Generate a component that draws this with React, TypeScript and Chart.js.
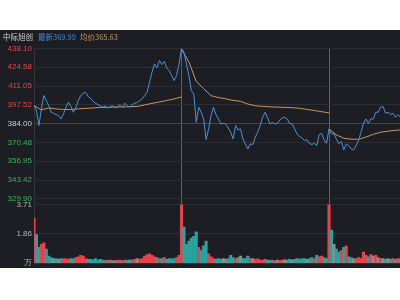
import React, { useEffect, useRef } from "react";
import { Chart, registerables } from "chart.js";

Chart.register(...registerables);

// ---- Text ----
const stockName = "中际旭创";
const latestLabel = "最新369.99";
const avgLabel = "均价365.63";
const volumeUnit = "万";

// ---- Axis values ----
const prevClose = 384.0;
const priceTicks = [438.1, 424.58, 411.05, 397.52, 384.0, 370.48, 356.95, 343.42, 329.9];
const volumeTicks = [0, 1.86, 3.71];
const minutesPerDay = 240;
const priceStep = 4; // minutes between price / volume samples
const avgStep = 12; // minutes between average samples
const dayBoundaries = [0, 240, 480];
const xMaxMinutes = 595.5;

// ---- Price (every 4 min) ----
const priceDay1 = [
  397.0, 393.4, 382.6, 394.6, 404.2, 400.6, 397.0, 392.2, 391.5, 390.5,
  389.8, 387.4, 391.0, 395.8, 399.4, 396.3, 392.2, 395.3, 400.6, 404.2,
  405.8, 406.6, 403.5, 402.3, 400.1, 398.7, 397.7, 396.8, 395.8, 396.8,
  395.3, 396.3, 397.0, 395.3, 396.3, 397.7, 395.8, 398.7, 396.8, 395.8,
  397.7, 398.7, 399.2, 400.6, 401.8, 404.2, 406.6, 413.8, 421.0, 427.0,
  424.1, 429.4, 426.5, 428.9, 424.1, 422.2, 418.6, 415.0, 418.6, 427.0,
];
const priceDay2 = [
  438.1, 435.4, 427.0, 418.6, 407.8, 405.4, 385.0, 395.8, 392.2, 387.4,
  372.5, 380.0, 389.8, 395.8, 390.5, 387.4, 383.8, 384.2, 383.8, 380.9,
  377.8, 373.0, 382.6, 379.5, 380.2, 373.0, 369.4, 365.8, 369.4, 369.0,
  374.2, 377.8, 382.6, 388.6, 392.2, 388.1, 383.8, 384.8, 383.8, 384.2,
  386.6, 388.1, 388.6, 387.4, 384.2, 383.8, 380.2, 376.6, 374.7, 373.7,
  371.8, 372.5, 369.8, 369.0, 369.8, 368.2, 376.1, 377.0, 372.3, 369.8,
];
const priceDay3 = [
  380.2, 376.6, 376.6, 373.0, 369.4, 371.3, 365.1, 369.4, 368.2, 365.8,
  365.1, 368.2, 371.8, 377.8, 383.8, 387.4, 384.2, 387.4, 387.4, 392.2,
  392.2, 395.8, 396.3, 391.5, 392.2, 390.5, 391.5, 388.6, 390.5, 388.6,
];

// ---- Average price (every 12 min) ----
const avgDay1 = [
  397.0, 393.9, 395.3, 394.6, 394.2, 394.2, 394.6, 395.0, 395.3, 395.7,
  395.7, 396.0, 396.0, 396.2, 396.4, 397.5, 398.6, 399.6, 400.7, 401.8, 403.2,
];
const avgDay2 = [
  437.7, 428.4, 414.4, 409.2, 404.1, 402.8, 401.9, 400.7, 400.1, 398.1,
  396.9, 396.4, 396.1, 395.9, 395.7, 395.5, 395.1, 394.2, 393.5, 392.6, 391.7,
];
const avgDay3 = [380.2, 375.9, 373.5, 372.8, 372.7, 374.3, 376.3, 377.8, 378.6, 379.2, 379.5];

// ---- Volume, 万 (every 4 min) ----
const volDay1 = [
  2.87, 1.81, 1.0, 1.2, 1.3, 0.9, 0.45, 0.35, 0.3, 0.3,
  0.25, 0.3, 0.28, 0.3, 0.25, 0.3, 0.28, 0.35, 0.4, 0.5,
  0.45, 0.3, 0.25, 0.25, 0.22, 0.3, 0.2, 0.25, 0.2, 0.18,
  0.18, 0.2, 0.15, 0.18, 0.18, 0.2, 0.15, 0.2, 0.18, 0.22,
  0.2, 0.25, 0.3, 0.25, 0.3, 0.45, 0.55, 0.6, 0.5, 0.4,
  0.35, 0.3, 0.3, 0.35, 0.25, 0.3, 0.28, 0.3, 0.35, 0.5,
];
const volDay2 = [
  3.71, 2.3, 1.2, 1.4, 1.6, 1.7, 2.0, 1.0, 0.8, 1.1,
  1.4, 0.6, 0.4, 0.3, 0.25, 0.3, 0.25, 0.3, 0.25, 0.3,
  0.5, 0.35, 0.3, 0.35, 0.45, 0.3, 0.3, 0.45, 0.3, 0.3,
  0.25, 0.28, 0.2, 0.2, 0.25, 0.2, 0.18, 0.2, 0.15, 0.2,
  0.18, 0.2, 0.22, 0.2, 0.25, 0.2, 0.25, 0.3, 0.25, 0.3,
  0.3, 0.25, 0.3, 0.35, 0.3, 0.5, 0.4, 0.45, 0.35, 0.3,
];
const volDay3 = [
  3.71, 2.1, 1.2, 0.9, 0.7, 0.8, 1.0, 1.1, 0.4, 0.35,
  0.3, 0.3, 0.35, 0.3, 0.7, 0.5, 0.4, 0.55, 0.45, 0.5,
  0.35, 0.3, 0.3, 0.25, 0.3, 0.25, 0.3, 0.25, 0.3, 0.3,
];

// ---- Styling ----
const BG = "#1d1e23";
const RED = "#e8434c";
const TEAL = "#28a39f";
const GRAY = "#8d8d8f";
const LINE_BLUE = "#4a92da";
const AVG_TAN = "#c8965c";
const TICK_RED = "#e0464c";
const TICK_GREEN = "#35b45e";
const TICK_WHITE = "#cfd0d3";
const GRID = "#2c2e34";
const FONT = "'Liberation Sans', Arial, sans-serif";

// vertical layout inside the canvas (px)
const CANVAS_H = 240;
const AREA_TOP = 18.5;
const PRICE_BOTTOM = 169; // pixel of lowest price tick
const SPLIT = 172; // border between price and volume panels
const VOL_TOP = 175; // pixel of highest volume tick
const AREA_BOTTOM = 233.5;
const AXIS_W = 34;

const priceMax = priceTicks[0];
const priceMinTick = priceTicks[priceTicks.length - 1];
const pricePerPx = (priceMax - priceMinTick) / (PRICE_BOTTOM - AREA_TOP);
const priceMin = priceMinTick - (SPLIT - PRICE_BOTTOM) * pricePerPx;
const volMax = (volumeTicks[2] * (AREA_BOTTOM - SPLIT)) / (AREA_BOTTOM - VOL_TOP);

function buildConfig(): any {
  const days = [priceDay1, priceDay2, priceDay3];
  const vols = [volDay1, volDay2, volDay3];
  const avgs = [avgDay1, avgDay2, avgDay3];
  const pricePts: { x: number; y: number }[] = [];
  const volPts: { x: number; y: number }[] = [];
  const volColors: string[] = [];
  let prev: number | null = null;
  days.forEach((arr, d) => {
    arr.forEach((p, i) => {
      const x = d * minutesPerDay + i * priceStep;
      pricePts.push({ x, y: p });
      volPts.push({ x, y: vols[d][i] });
      let c = RED;
      if (prev !== null) {
        const diff = p - prev;
        c = diff > 0.8 ? RED : diff < -0.8 ? TEAL : GRAY;
      }
      volColors.push(c);
      prev = p;
    });
  });
  const avgSets = avgs.map((arr, d) => ({
    type: "line",
    data: arr.map((v, i) => ({ x: d * minutesPerDay + i * avgStep, y: v })),
    borderColor: AVG_TAN,
    borderWidth: 1,
    pointRadius: 0,
    yAxisID: "y",
    order: 1,
  }));

  return {
    type: "line",
    data: {
      datasets: [
        {
          type: "line",
          data: pricePts,
          borderColor: LINE_BLUE,
          borderWidth: 1,
          pointRadius: 0,
          yAxisID: "y",
          order: 0,
        },
        ...avgSets,
        {
          type: "bar",
          data: volPts,
          backgroundColor: volColors,
          borderWidth: 0,
          barPercentage: 1,
          categoryPercentage: 1,
          yAxisID: "yv",
          order: 2,
        },
      ],
    },
    options: {
      animation: false,
      responsive: false,
      maintainAspectRatio: false,
      layout: { padding: { left: 0, top: AREA_TOP, right: 0, bottom: CANVAS_H - AREA_BOTTOM } },
      plugins: { legend: { display: false }, tooltip: { enabled: false } },
      scales: {
        x: {
          type: "linear",
          min: 0,
          max: xMaxMinutes,
          offset: false,
          afterBuildTicks: (s: any) => {
            s.ticks = dayBoundaries.map((v) => ({ value: v }));
          },
          ticks: { display: false },
          grid: {
            offset: false,
            color: (ctx: any) => (ctx.tick && ctx.tick.value === 0 ? "#34363c" : "#616266"),
            drawTicks: false,
            lineWidth: 1,
          },
          border: { display: false },
          afterFit: (s: any) => {
            s.height = 0;
          },
        },
        yv: {
          position: "left",
          stack: "panels",
          stackWeight: AREA_BOTTOM - SPLIT,
          min: 0,
          max: volMax,
          afterBuildTicks: (s: any) => {
            s.ticks = volumeTicks.map((v) => ({ value: v }));
          },
          ticks: {
            autoSkip: false,
            padding: 2,
            font: { size: 8, family: FONT },
            color: "#b4b5b8",
            callback: (v: any) => (Number(v) === 0 ? volumeUnit : Number(v).toFixed(2)),
          },
          grid: { color: GRID, drawTicks: false },
          border: { display: false },
          afterFit: (s: any) => {
            s.width = AXIS_W;
          },
        },
        y: {
          position: "left",
          stack: "panels",
          stackWeight: SPLIT - AREA_TOP,
          min: priceMin,
          max: priceMax,
          afterBuildTicks: (s: any) => {
            s.ticks = priceTicks.map((v) => ({ value: v }));
          },
          ticks: {
            autoSkip: false,
            padding: 2,
            font: { size: 8, family: FONT },
            color: (ctx: any) => {
              const v = ctx.tick.value;
              return v > prevClose ? TICK_RED : v < prevClose ? TICK_GREEN : TICK_WHITE;
            },
            callback: (v: any) => Number(v).toFixed(2),
          },
          grid: {
            color: (ctx: any) => (ctx.tick && ctx.tick.value === prevClose ? "#45474d" : GRID),
            drawTicks: false,
          },
          border: { display: false },
          afterFit: (s: any) => {
            s.width = AXIS_W;
          },
        },
      },
    },
  };
}

export default function App() {
  const ref = useRef<HTMLCanvasElement>(null);
  useEffect(() => {
    const chart = new Chart(ref.current as HTMLCanvasElement, buildConfig());
    return () => chart.destroy();
  }, []);
  const headFont = "7.5px 'Noto Sans CJK SC', 'Noto Sans', sans-serif";
  return (
    <div
      style={{
        position: "fixed",
        left: 0,
        top: 0,
        width: 400,
        height: 300,
        background: "#ffffff",
        overflow: "hidden",
      }}
    >
      <div style={{ position: "absolute", left: 0, top: 30, width: 400, height: 238, background: BG }} />
      <canvas
        ref={ref}
        width={400}
        height={CANVAS_H}
        style={{ position: "absolute", left: 0, top: 30, width: 400, height: CANVAS_H }}
      />
      <span style={{ position: "absolute", left: 3, top: 31, font: headFont, lineHeight: "11px", color: "#cfd0d3", whiteSpace: "nowrap" }}>
        {stockName}
      </span>
      <span style={{ position: "absolute", left: 38, top: 31, font: headFont, lineHeight: "11px", color: "#3f8ad0", whiteSpace: "nowrap" }}>
        {latestLabel}
      </span>
      <span style={{ position: "absolute", left: 80, top: 31, font: headFont, lineHeight: "11px", color: "#c49a62", whiteSpace: "nowrap" }}>
        {avgLabel}
      </span>
    </div>
  );
}
